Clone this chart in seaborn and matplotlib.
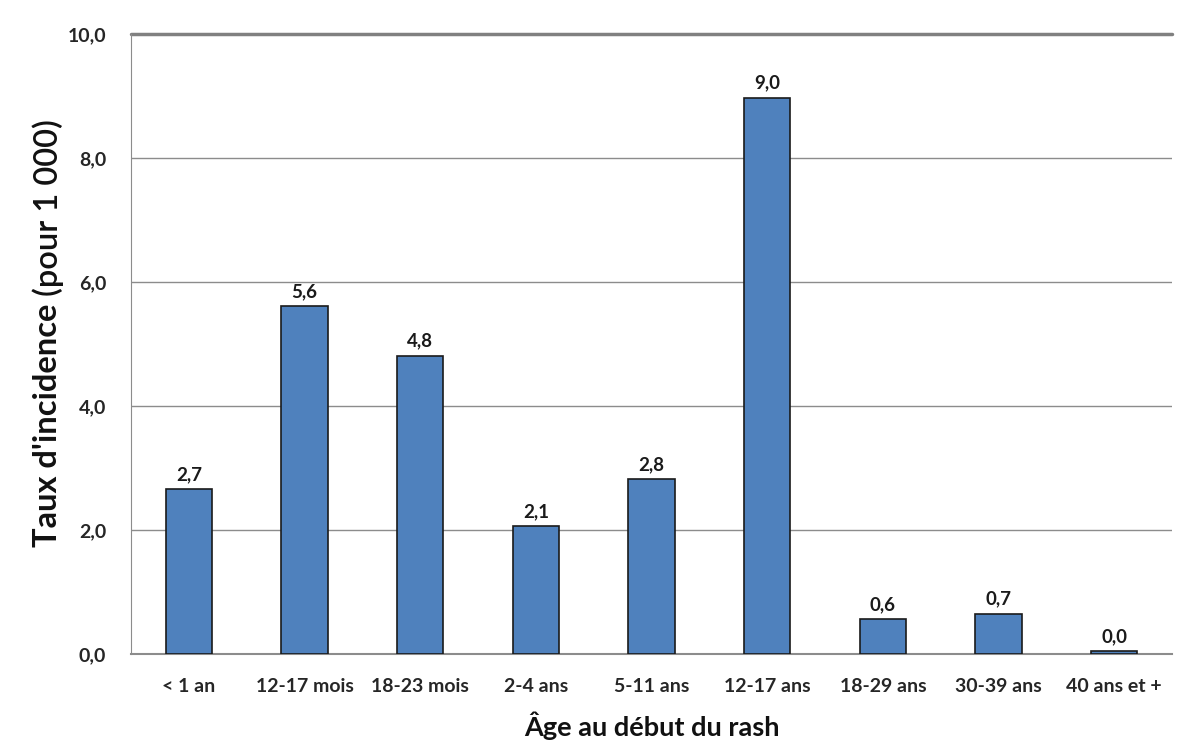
import matplotlib
matplotlib.use("Agg")
import matplotlib.pyplot as plt
import seaborn as sns
import pandas as pd

# données
ages = ["< 1 an", "12-17 mois", "18-23 mois", "2-4 ans", "5-11 ans",
        "12-17 ans", "18-29 ans", "30-39 ans", "40 ans et +"]
taux = [2.66, 5.61, 4.81, 2.06, 2.82, 8.97, 0.56, 0.65, 0.04]
etiquettes = ["2,7", "5,6", "4,8", "2,1", "2,8", "9,0", "0,6", "0,7", "0,0"]
yticks = [0, 2, 4, 6, 8, 10]

df = pd.DataFrame({"age": ages, "taux": taux})

sns.set_style("white")
plt.rcParams["font.family"] = ["Lato", "DejaVu Sans"]

fig = plt.figure(figsize=(11.87, 7.48), dpi=100)
ax = fig.add_axes([0.1104, 0.1257, 0.877, 0.829])

sns.barplot(data=df, x="age", y="taux", color="#4F81BD", width=0.4,
            edgecolor="#1a1a1a", linewidth=1.2, saturation=1, ax=ax, zorder=3)

for i, (v, lab) in enumerate(zip(taux, etiquettes)):
    ax.text(i, v + 0.1, lab, ha="center", va="bottom", fontsize=13.5,
            fontweight="bold", color="#1a1a1a")

ax.set_ylim(0, 10)
ax.set_xlim(-0.5, len(ages) - 0.5)
ax.set_yticks(yticks)
ax.set_yticklabels([f"{t:.1f}".replace(".", ",") for t in yticks],
                   fontsize=14, fontweight="bold", color="#262626")
ax.tick_params(axis="x", labelsize=14, colors="#262626", pad=17, length=0)
ax.tick_params(axis="y", length=0, pad=18)
for lab in ax.get_xticklabels():
    lab.set_fontweight("bold")

ax.yaxis.grid(True, color="#8c8c8c", linewidth=1, zorder=0)
ax.set_axisbelow(True)
for s in ["top", "right"]:
    ax.spines[s].set_visible(False)
ax.spines["left"].set_color("#8c8c8c")
ax.spines["bottom"].set_color("#8c8c8c")
ax.spines["bottom"].set_linewidth(1.5)
ax.axhline(10, color="#808080", linewidth=2.5, zorder=1, clip_on=False)

ax.set_xlabel("Âge au début du rash", fontsize=19.5, fontweight="bold",
              color="#111111", labelpad=12)
ax.set_ylabel("")

# titre de l'axe y : partie en gras + partie normale
t1 = fig.text(0.0404, 0.2687, "Taux d'incidence", rotation=90, ha="center",
              va="bottom", fontsize=23.5, fontweight="bold", color="#111111")
fig.canvas.draw()
bb = t1.get_window_extent()
y2 = (bb.y1 + 8) / fig.bbox.height
fig.text(0.0404, y2, "(pour 1 000)", rotation=90, ha="center",
         va="bottom", fontsize=23.5, fontweight="semibold", color="#111111")

fig.savefig("out.png", dpi=100)
